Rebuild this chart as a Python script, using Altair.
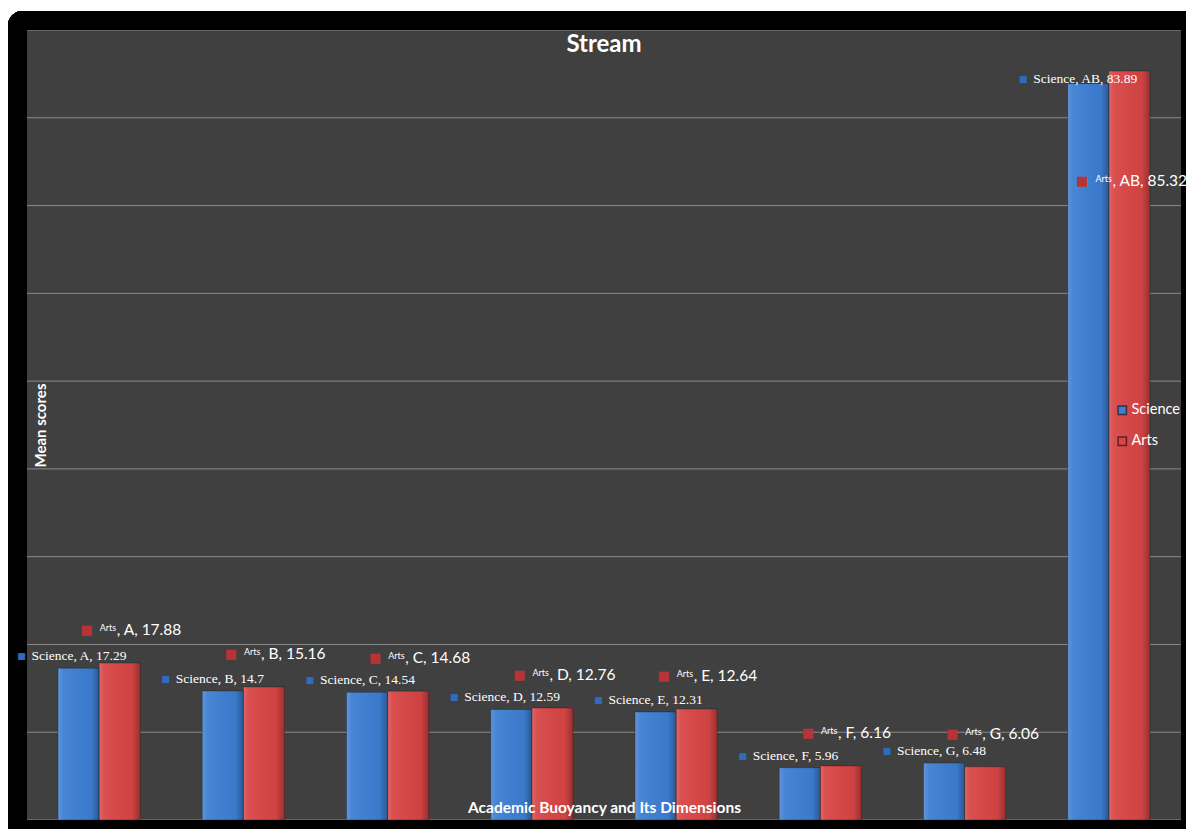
import altair as alt
import pandas as pd

categories = ["A", "B", "C", "D", "E", "F", "G", "AB"]
series_names = ["Science", "Arts"]
science = [17.29, 14.7, 14.54, 12.59, 12.31, 5.96, 6.48, 83.89]
arts = [17.88, 15.16, 14.68, 12.76, 12.64, 6.16, 6.06, 85.32]
grid_values = [0, 10, 20, 30, 40, 50, 60, 70, 80, 90]

rows = []
for c, v in zip(categories, science):
    rows.append({"cat": c, "series": "Science", "value": v,
                 "label": f"Science, {c}, {v}", "rest": f", {c}, {v}"})
for c, v in zip(categories, arts):
    rows.append({"cat": c, "series": "Arts", "value": v,
                 "label": f"Arts, {c}, {v}", "rest": f", {c}, {v}"})
df = pd.DataFrame(rows)
grid_df = pd.DataFrame({"value": grid_values})

W, H = 1154, 790
BLUE = "#3d7fd3"
RED = "#d84545"

xenc = alt.X("cat:N", sort=categories,
             scale=alt.Scale(paddingInner=0.43, paddingOuter=0.215),
             axis=alt.Axis(title="Academic Buoyancy and Its Dimensions", labels=False,
                           ticks=False, domain=False, grid=False, zindex=1,
                           titleColor="white", titleFont="Lato", titleFontSize=15.5,
                           titleFontWeight="bold", titleY=-8, titleBaseline="alphabetic"))
xoff = alt.XOffset("series:N", sort=series_names,
                   scale=alt.Scale(domain=series_names, paddingInner=0, paddingOuter=0))
yaxis = alt.Axis(title="Mean scores", labels=False, ticks=False, domain=False,
                 grid=False, zindex=1, titleColor="white", titleFont="Lato",
                 titleFontSize=15, titleFontWeight="bold", titleX=13,
                 titleY=395, titleBaseline="middle", titleAlign="center",
                 titleAngle=270)
yscale = alt.Scale(domain=[0, 90], nice=False)
yenc = alt.Y("value:Q", scale=yscale, axis=yaxis)

grid = alt.Chart(grid_df).mark_rule(color="#8a8a8a", strokeWidth=1).encode(
    y=alt.Y("value:Q", scale=yscale, axis=yaxis)
)

frame = alt.Chart(grid_df).mark_rect(
    fill=None, stroke="black", strokeWidth=19, cornerRadius=5, clip=False
).encode(
    x=alt.value(-9.5), x2=alt.value(W + 9.5), y=alt.value(-9.5), y2=alt.value(H + 9.5)
)

base = alt.Chart(df)

bars = base.mark_bar().encode(
    x=xenc, xOffset=xoff, y=yenc,
    color=alt.Color("series:N", sort=series_names,
                    scale=alt.Scale(domain=series_names, range=[BLUE, RED]),
                    legend=alt.Legend(title=None, orient="none", legendX=1088, legendY=373,
                                      symbolType="square", symbolSize=70,
                                      symbolStrokeWidth=1.5,
                                      symbolStrokeColor="rgba(0,0,0,0.55)",
                                      symbolOpacity=1,
                                      labelColor="white", labelFont="Lato",
                                      labelFontSize=14.5, labelOffset=2, rowPadding=15,
                                      padding=0)),
)

shade = base.mark_bar(
    fill=alt.Gradient(gradient="linear", x1=0, x2=1, y1=0, y2=0, stops=[
        alt.GradientStop(offset=0, color="rgba(255,255,255,0.18)"),
        alt.GradientStop(offset=0.12, color="rgba(255,255,255,0.06)"),
        alt.GradientStop(offset=0.8, color="rgba(0,0,0,0.04)"),
        alt.GradientStop(offset=1, color="rgba(0,0,0,0.30)"),
    ]),
    stroke="rgba(0,0,0,0.25)", strokeWidth=1,
).encode(x=xenc, xOffset=xoff, y=yenc)


def science_layers(pred, dx, dy):
    d = base.transform_filter(pred)
    m = d.mark_text(text="■", color="#2f6cc0", fontSize=9, font="DejaVu Sans",
                    align="center", baseline="middle", dx=dx - 10, dy=dy).encode(
        x=xenc, xOffset=xoff, y=yenc)
    t = d.mark_text(color="white", font="Liberation Serif", fontSize=13.5,
                    align="left", baseline="middle", dx=dx, dy=dy).encode(
        x=xenc, xOffset=xoff, y=yenc, text="label:N")
    return [m, t]


def arts_layers(pred, dx, dy):
    d = base.transform_filter(pred)
    m = d.mark_text(text="■", color="#b83434", fontSize=13, font="DejaVu Sans",
                    align="center", baseline="middle", dx=dx, dy=dy).encode(
        x=xenc, xOffset=xoff, y=yenc)
    s = d.mark_text(text="Arts", color="white", font="Lato", fontSize=9,
                    align="left", baseline="alphabetic", dx=dx + 13, dy=dy + 1).encode(
        x=xenc, xOffset=xoff, y=yenc)
    t = d.mark_text(color="white", font="Lato", fontSize=15.5,
                    align="left", baseline="alphabetic", dx=dx + 30, dy=dy + 5).encode(
        x=xenc, xOffset=xoff, y=yenc, text="rest:N")
    return [m, s, t]


layers = [grid, frame, bars, shade]
layers += science_layers("datum.series == 'Science' && datum.cat != 'AB'", -47, -12)
layers += science_layers("datum.series == 'Science' && datum.cat == 'AB'", -55, -5)
layers += arts_layers("datum.series == 'Arts' && datum.cat != 'AB'", -33, -33)
layers += arts_layers("datum.series == 'Arts' && datum.cat == 'AB'", -47, 110)

chart = alt.layer(*layers).properties(
    width=W, height=H,
    title=alt.TitleParams("Stream", color="white", font="Lato", fontSize=24,
                          fontWeight="bold", anchor="middle", offset=-46, zindex=1),
    autosize=alt.AutoSizeParams(type="none"),
    padding={"left": 27, "top": 30, "right": 5, "bottom": 9},
    background="white",
).configure_view(fill="#404040", stroke=None)

chart.save("out.html", embed_options={"renderer": "svg", "actions": False})
